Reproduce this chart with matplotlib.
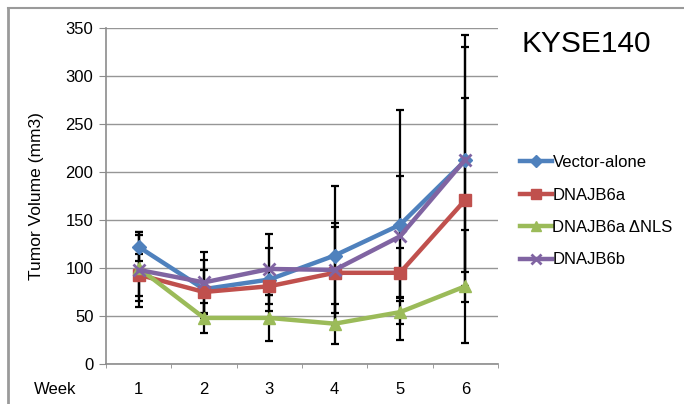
import matplotlib
matplotlib.use("Agg")
import matplotlib.pyplot as plt
import numpy as np
from matplotlib.lines import Line2D

plt.rcParams['font.family'] = ['Liberation Sans', 'DejaVu Sans']

# data
weeks = ['1', '2', '3', '4', '5', '6']
vector_alone = [122, 78, 88, 113, 145, 212]
vector_err = [15, 30, 33, 72, 120, 131]
dnajb6a = [93, 75, 81, 95, 95, 171]
dnajb6a_err = [22, 23, 9, 52, 26, 106]
dnajb6a_nls = [100, 48, 48, 42, 54, 81]
dnajb6a_nls_err = [34, 16, 24, 21, 12, 59]
dnajb6b = [98, 85, 99, 98, 133, 213]
dnajb6b_err = [39, 32, 36, 45, 63, 117]

labels = ['Vector-alone', 'DNAJB6a', 'DNAJB6a \u0394NLS', 'DNAJB6b']
colors = ['#4F81BD', '#C0504D', '#9BBB59', '#8064A2']
markers = ['D', 's', '^', 'x']
msizes = [7, 8, 8, 8]

series = [vector_alone, dnajb6a, dnajb6a_nls, dnajb6b]
errors = [vector_err, dnajb6a_err, dnajb6a_nls_err, dnajb6b_err]

fs = 12

fig = plt.figure(figsize=(6.84, 4.04), dpi=100)
ax = fig.add_axes([106 / 684, 1 - 364 / 404, 392 / 684, 336 / 404])

x = np.arange(1, len(weeks) + 1)

# error bars first, lines on top
for vals, err in zip(series, errors):
    ax.errorbar(x, vals, yerr=err, fmt='none', ecolor='black',
                elinewidth=1.6, capsize=3, capthick=1.6, zorder=2)

handles = []
for vals, lab, c, m, ms in zip(series, labels, colors, markers, msizes):
    mew = 2 if m == 'x' else 1
    ax.plot(x, vals, color=c, lw=3.2, marker=m, markersize=ms,
            markeredgewidth=mew, zorder=3)
    handles.append(Line2D([0], [0], color=c, lw=3.2, marker=m,
                          markersize=ms - 1, markeredgewidth=mew))

ax.set_xlim(0.5, 6.5)
ax.set_ylim(0, 350)
ax.set_yticks(np.arange(0, 351, 50))
ax.set_xticks(x)
ax.set_xticklabels(weeks)
ax.set_xticks(np.arange(0.5, 6.6, 1), minor=True)

ax.grid(axis='y', color='#969696', lw=1)
ax.set_axisbelow(True)
for s in ['top', 'right']:
    ax.spines[s].set_visible(False)
for s in ['left', 'bottom']:
    ax.spines[s].set_color('#8c8c8c')
    ax.spines[s].set_linewidth(1.2)

ax.tick_params(axis='y', length=5, color='#8c8c8c', labelsize=fs, pad=4)
ax.tick_params(axis='x', which='major', length=0, labelsize=fs, pad=13)
ax.tick_params(axis='x', which='minor', length=3, color='#8c8c8c')

ax.set_ylabel('Tumor Volume (mm3)', fontsize=12.5)
ax.yaxis.set_label_coords(-0.158, 0.5)

fig.text(55 / 684, 1 - 389 / 404, 'Week', fontsize=fs,
         ha='center', va='center')
fig.text(522 / 684, 1 - 44 / 404, 'KYSE140', fontsize=21.5,
         ha='left', va='center')

fig.legend(handles, labels, loc='upper left',
           bbox_to_anchor=(505 / 684, 1 - 140 / 404), frameon=False,
           fontsize=fs, handlelength=1.9, handletextpad=0.05,
           labelspacing=1.05)

# frame lines of the original figure
fig.add_artist(Line2D([8 / 684, 1], [1 - 8 / 404] * 2, color='#9a9a9a', lw=1.5))
fig.add_artist(Line2D([8 / 684] * 2, [0, 1 - 8 / 404], color='#9a9a9a', lw=2))

fig.savefig('out.png', dpi=100)
